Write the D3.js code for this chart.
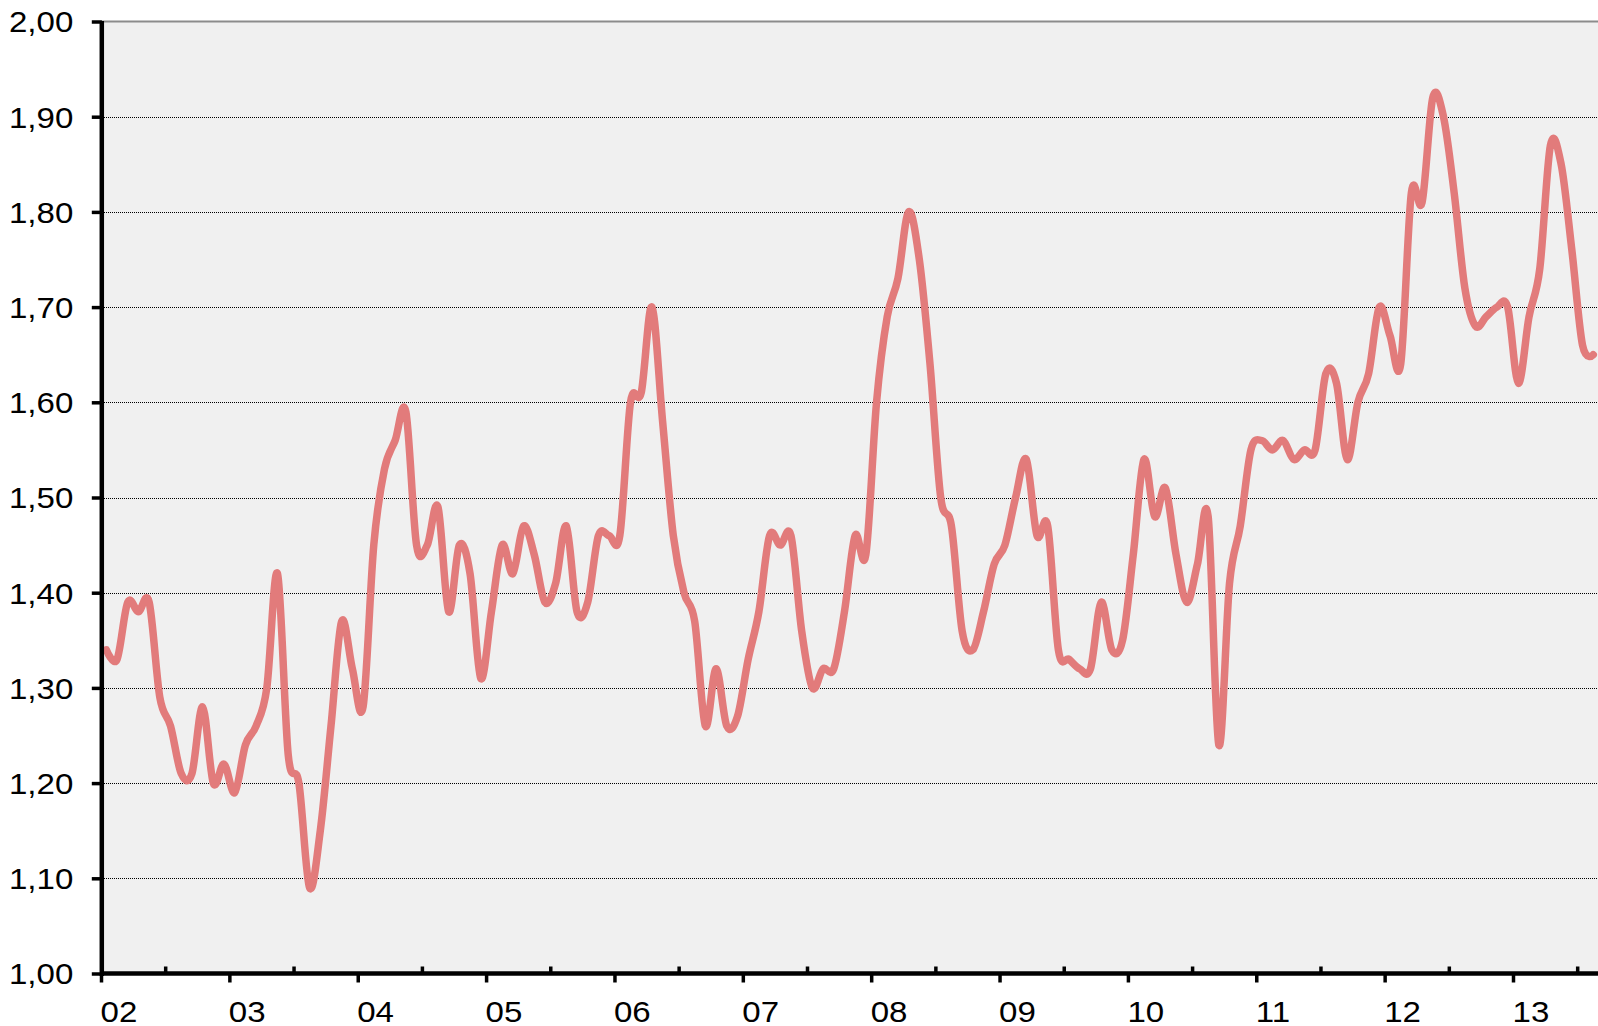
<!DOCTYPE html>
<html>
<head>
<meta charset="utf-8">
<script src="https://cdn.jsdelivr.net/npm/d3@7"></script>
<style>
  html, body { margin: 0; padding: 0; background: #fff; }
  svg { display: block; }
  text { font-family: "Liberation Sans", Arial, sans-serif; fill: #000; }
</style>
</head>
<body>
<svg id="chart" width="1598" height="1026"></svg>
<script>
// ---- data ----
const yearLabels = ["02","03","04","05","06","07","08","09","10","11","12","13"];
const values2002 = [1.34,1.33,1.39,1.38,1.39,1.29,1.26,1.21,1.21,1.28,1.20,1.22];
const values2003 = [1.19,1.24,1.26,1.30,1.42,1.23,1.20,1.09,1.15,1.26,1.37,1.32];
const values2004 = [1.28,1.45,1.53,1.56,1.59,1.45,1.45,1.49,1.38,1.45,1.42,1.31];
const values2005 = [1.38,1.45,1.42,1.47,1.44,1.39,1.41,1.47,1.38,1.39,1.46,1.46];
const values2006 = [1.46,1.60,1.61,1.70,1.58,1.46,1.40,1.37,1.26,1.32,1.26,1.27];
const values2007 = [1.33,1.38,1.46,1.45,1.46,1.36,1.30,1.32,1.32,1.38,1.46,1.44];
const values2008 = [1.60,1.69,1.73,1.80,1.75,1.64,1.50,1.47,1.36,1.34,1.38,1.43];
const values2009 = [1.45,1.50,1.54,1.46,1.47,1.34,1.33,1.32,1.32,1.39,1.34,1.35];
const values2010 = [1.44,1.54,1.48,1.51,1.44,1.39,1.43,1.48,1.24,1.41,1.47,1.55];
const values2011 = [1.56,1.55,1.56,1.54,1.55,1.55,1.63,1.62,1.54,1.60,1.63,1.70];
const values2012 = [1.67,1.64,1.82,1.81,1.92,1.90,1.82,1.72,1.68,1.69,1.70,1.70];
const values2013 = [1.62,1.69,1.74,1.87,1.85,1.76,1.66,1.65];
const yTickValues = [1.0,1.1,1.2,1.3,1.4,1.5,1.6,1.7,1.8,1.9,2.0];
const gridValues = [1.1,1.2,1.3,1.4,1.5,1.6,1.7,1.8,1.9];

const values = [].concat(values2002, values2003, values2004, values2005, values2006,
  values2007, values2008, values2009, values2010, values2011, values2012, values2013);
const totalMonths = 144; // category slots Jan 2002 .. Dec 2013

// ---- layout ----
const W = 1598, H = 1026;
const plotLeft = 101, plotTop = 21.5, plotBottom = 973.5, monthW = 10.697;
const svg = d3.select("#chart");

const x = d3.scaleLinear().domain([0, totalMonths]).range([plotLeft, plotLeft + totalMonths * monthW]);
const y = d3.scaleLinear().domain([1, 2]).range([plotBottom, plotTop]);
const fmt = d3.formatLocale({decimal: ",", thousands: ".", grouping: [3], currency: ["", ""]}).format(".2f");

// plot background
svg.append("rect")
  .attr("x", plotLeft).attr("y", y(2))
  .attr("width", W - plotLeft).attr("height", y(1) - y(2))
  .attr("fill", "#f0f0f0");

// gridlines
svg.append("g").selectAll("line").data(gridValues).join("line")
  .attr("x1", plotLeft + 3).attr("x2", W)
  .attr("y1", d => Math.round(y(d)) + 0.5).attr("y2", d => Math.round(y(d)) + 0.5)
  .attr("stroke", "#000").attr("stroke-width", 1).attr("stroke-dasharray", "1 1");

// top border
svg.append("line")
  .attr("x1", plotLeft).attr("x2", W).attr("y1", y(2)).attr("y2", y(2))
  .attr("stroke", "#8c8c8c").attr("stroke-width", 2);

// data line
const line = d3.line()
  .x((d, i) => x(i + 0.5))
  .y(d => y(d))
  .curve(d3.curveCardinal.tension(0));
svg.append("path")
  .datum(values)
  .attr("d", line)
  .attr("fill", "none")
  .attr("stroke", "#e27b7b")
  .attr("stroke-width", 7.5)
  .attr("stroke-linejoin", "round")
  .attr("stroke-linecap", "round");

// y axis
const yAxis = d3.axisLeft(y).tickValues(yTickValues).tickSize(10).tickFormat(fmt);
const gy = svg.append("g").attr("transform", `translate(${plotLeft + 0.8},0)`).call(yAxis);
gy.select(".domain").attr("stroke", "#000").attr("stroke-width", 4.5)
  .attr("d", `M0,${y(2) - 0.5}V${y(1) + 2.5}`);
gy.selectAll(".tick line").attr("stroke", "#000").attr("stroke-width", 3.5);
gy.selectAll(".tick text")
  .attr("x", null).attr("dy", null)
  .attr("text-anchor", "end")
  .attr("font-size", 29)
  .attr("transform", "translate(-28.5,10.4) scale(1.14,1)");

// x axis (major ticks below, with year labels)
const majorTicks = d3.range(0, totalMonths + 1, 12);
const minorTicks = d3.range(6, totalMonths, 12);
const xAxis = d3.axisBottom(x).tickValues(majorTicks).tickSize(9)
  .tickFormat((d, i) => yearLabels[i] || "");
const gx = svg.append("g").attr("transform", `translate(0,${plotBottom})`).call(xAxis);
gx.select(".domain").attr("stroke", "#000").attr("stroke-width", 4.5)
  .attr("d", `M${plotLeft - 1},0H${W}`);
gx.selectAll(".tick line").attr("stroke", "#000").attr("stroke-width", 3.5);
gx.selectAll(".tick text")
  .attr("y", null).attr("dy", null)
  .attr("text-anchor", "start")
  .attr("font-size", 29)
  .attr("transform", "translate(-1,48.5) scale(1.14,1)");

// minor ticks above axis
const xMinor = d3.axisTop(x).tickValues(minorTicks).tickSize(7).tickFormat("");
const gm = svg.append("g").attr("transform", `translate(0,${plotBottom})`).call(xMinor);
gm.select(".domain").remove();
gm.selectAll(".tick line").attr("stroke", "#000").attr("stroke-width", 3.5);
</script>
</body>
</html>
